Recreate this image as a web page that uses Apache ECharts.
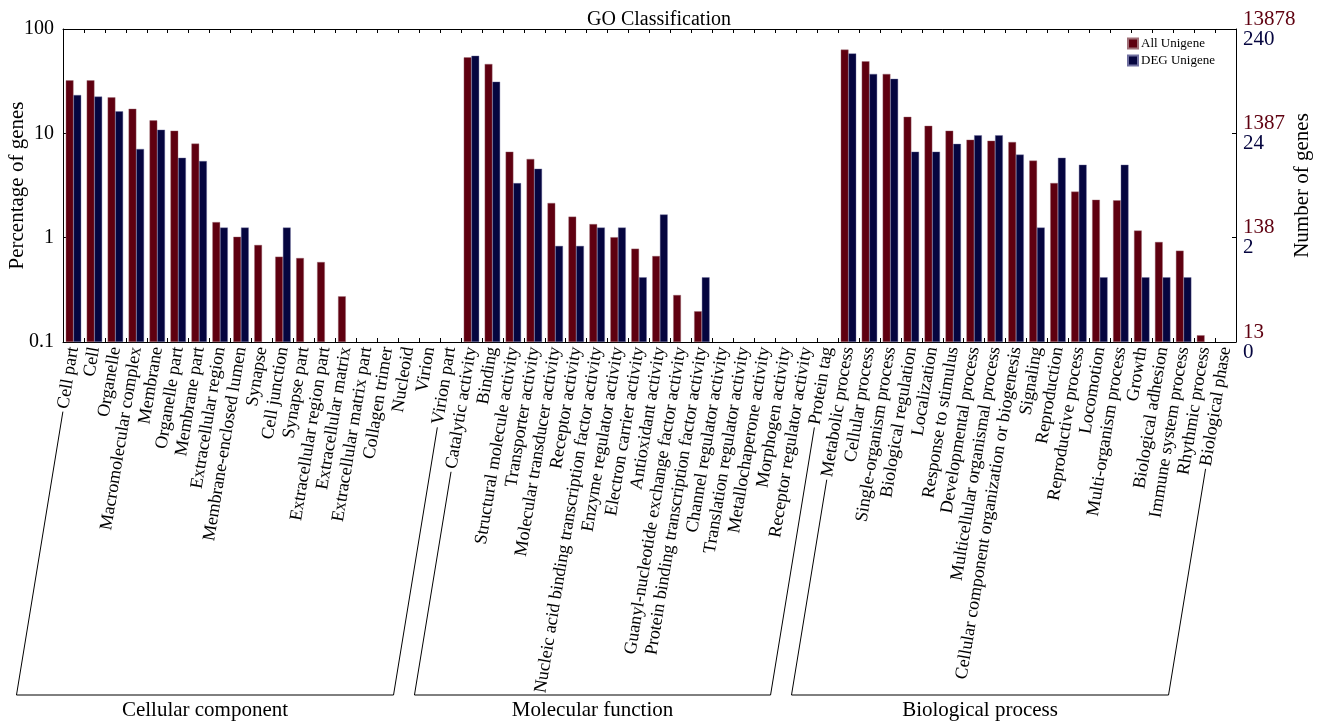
<!DOCTYPE html>
<html>
<head>
<meta charset="utf-8">
<script src="https://cdn.jsdelivr.net/npm/echarts@6/dist/echarts.min.js"></script>
<style>
html,body{margin:0;padding:0;background:#fff;}
#chart{width:1325px;height:725px;}
</style>
</head>
<body>
<div id="chart"></div>
<script>
const categories = [
  'Cell part','Cell','Organelle','Macromolecular complex','Membrane','Organelle part','Membrane part',
  'Extracellular region','Membrane-enclosed lumen','Synapse','Cell junction','Synapse part',
  'Extracellular region part','Extracellular matrix','Extracellular matrix part','Collagen trimer',
  'Nucleoid','Virion','Virion part',
  'Catalytic activity','Binding','Structural molecule activity','Transporter activity',
  'Molecular transducer activity','Receptor activity','Nucleic acid binding transcription factor activity',
  'Enzyme regulator activity','Electron carrier activity','Antioxidant activity',
  'Guanyl-nucleotide exchange factor activity','Protein binding transcription factor activity',
  'Channel regulator activity','Translation regulator activity','Metallochaperone activity',
  'Morphogen activity','Receptor regulator activity','Protein tag',
  'Metabolic process','Cellular process','Single-organism process','Biological regulation',
  'Localization','Response to stimulus','Developmental process','Multicellular organismal process',
  'Cellular component organization or biogenesis','Signaling','Reproduction','Reproductive process',
  'Locomotion','Multi-organism process','Growth','Biological adhesion','Immune system process',
  'Rhythmic process','Biological phase'
];
// percentage of genes ('-' = none)
const allUnigene = [
  32.2, 32.2, 22.1, 17.2, 13.3, 10.6, 7.96, 1.41, 1.02, 0.851, 0.657, 0.638, 0.584, 0.274, '-', '-', '-', '-', '-',
  53.5, 46.2, 6.67, 5.68, 2.15, 1.59, 1.35, 1.01, 0.784, 0.667, 0.282, 0.197, '-', '-', '-', '-', '-', '-',
  63.4, 49.0, 37.1, 14.4, 11.8, 10.6, 8.69, 8.50, 8.26, 5.47, 3.34, 2.76, 2.31, 2.28, 1.17, 0.909, 0.750, 0.116, '-'
];
const degUnigene = [
  23.3, 22.5, 16.25, 7.08, 10.83, 5.83, 5.42, 1.25, 1.25, '-', 1.25, '-', '-', '-', '-', '-', '-', '-', '-',
  55.4, 31.25, 3.33, 4.58, 0.833, 0.833, 1.25, 1.25, 0.417, 1.667, '-', 0.417, '-', '-', '-', '-', '-', '-',
  58.3, 37.1, 33.3, 6.67, 6.67, 7.92, 9.58, 9.58, 6.25, 1.25, 5.83, 5.0, 0.417, 5.0, 0.417, 0.417, 0.417, '-', '-'
];
const groupNames = ['Cellular component', 'Molecular function', 'Biological process'];
const groupFirst = [0, 19, 37];
const groupLast = [18, 36, 55];
const leftTickLabels = ['0.1', '1', '10', '100'];
const rightAllTicks = ['13', '138', '1387', '13878'];
const rightDegTicks = ['0', '2', '24', '240'];
const seriesNames = ['All Unigene', 'DEG Unigene'];

const RED = '#5f0010';
const BLUE = '#05053f';
const FONT = '"Liberation Serif", "Times New Roman", serif';
const ROT = 80.7;
const LABEL_SIZE = 18;
const LABEL_MARGIN = 5;
const BRACKET_Y = 695;

function tickIdx(v) { return Math.round(Math.log10(v)) + 1; }

const chart = echarts.init(document.getElementById('chart'), null, {renderer: 'canvas'});
const option = {
  animation: false,
  backgroundColor: '#fff',
  textStyle: {fontFamily: FONT},
  title: {
    text: 'GO Classification', left: 654, top: 5, textAlign: 'center',
    textStyle: {fontFamily: FONT, fontSize: 20, fontWeight: 'normal', color: '#000'}
  },
  legend: {
    data: seriesNames, orient: 'vertical', left: 1127, top: 37, padding: 0,
    itemWidth: 10, itemHeight: 10, itemGap: 4, icon: 'rect',
    textStyle: {fontFamily: FONT, fontSize: 13, color: '#000', padding: [0, 0, 0, -2]}
  },
  grid: {left: 63, right: 89, top: 29, bottom: 383, containLabel: false, outerBoundsMode: 'none'},
  xAxis: [{
    type: 'category', data: categories, position: 'bottom',
    axisLine: {show: true, lineStyle: {color: '#000', width: 1}},
    axisTick: {show: true, inside: true, length: 4, interval: 0, lineStyle: {color: '#000'}},
    axisLabel: {interval: 0, rotate: ROT, fontFamily: FONT, fontSize: LABEL_SIZE, color: '#000', margin: LABEL_MARGIN},
    splitLine: {show: false}
  }, {
    type: 'category', data: categories, position: 'top',
    axisLine: {show: true, lineStyle: {color: '#000', width: 1}},
    axisTick: {show: true, inside: true, length: 4, interval: 0, lineStyle: {color: '#000'}},
    axisLabel: {show: false}, splitLine: {show: false}
  }],
  yAxis: [{
    type: 'log', logBase: 10, min: 0.1, max: 100, position: 'left', startValue: 0.1,
    name: 'Percentage of genes', nameLocation: 'middle', nameGap: 35, nameRotate: 90, nameMoveOverlap: false,
    nameTextStyle: {fontFamily: FONT, fontSize: 21, color: '#000'},
    axisLine: {show: true, lineStyle: {color: '#000', width: 1}},
    axisTick: {show: true, inside: true, length: 4, lineStyle: {color: '#000'}},
    axisLabel: {fontFamily: FONT, fontSize: 20, color: '#000', margin: 9,
      formatter: v => leftTickLabels[tickIdx(v)]},
    splitLine: {show: false}, minorTick: {show: false}
  }, {
    type: 'log', logBase: 10, min: 0.1, max: 100, position: 'right',
    name: 'Number of genes', nameLocation: 'middle', nameGap: 56, nameRotate: 90, nameMoveOverlap: false,
    nameTextStyle: {fontFamily: FONT, fontSize: 21, color: '#000'},
    axisLine: {show: true, lineStyle: {color: '#000', width: 1}},
    axisTick: {show: true, inside: true, length: 4, lineStyle: {color: '#000'}},
    axisLabel: {margin: 7, align: 'left',
      formatter: v => '{r|' + rightAllTicks[tickIdx(v)] + '}\n{b|' + rightDegTicks[tickIdx(v)] + '}',
      rich: {
        r: {fontFamily: FONT, fontSize: 21, color: RED, lineHeight: 20},
        b: {fontFamily: FONT, fontSize: 21, color: BLUE, lineHeight: 20}
      }},
    splitLine: {show: false}
  }],
  series: [{
    name: seriesNames[0], type: 'bar', data: allUnigene, barWidth: 7.7, barGap: '0%',
    itemStyle: {color: RED, borderColor: '#a07078', borderWidth: 0.4}
  }, {
    name: seriesNames[1], type: 'bar', data: degUnigene, barWidth: 7.7, barGap: '0%',
    itemStyle: {color: BLUE, borderColor: '#7070a0', borderWidth: 0.4}
  }]
};
chart.setOption(option);

// group brackets following the rotated category labels
const ctx = document.createElement('canvas').getContext('2d');
ctx.font = LABEL_SIZE + 'px ' + FONT;
const rad = ROT * Math.PI / 180;
const dir = [-Math.cos(rad), Math.sin(rad)];
function anchorOf(i) {
  const p = chart.convertToPixel({gridIndex: 0}, [i, 0.1]);
  return [p[0], p[1] + LABEL_MARGIN];
}
function labelEnd(i) {
  const a = anchorOf(i);
  const w = ctx.measureText(categories[i]).width + 3;
  return [a[0] + dir[0] * w, a[1] + dir[1] * w];
}
function bottomOf(i) {
  const a = anchorOf(i);
  const t = (BRACKET_Y - a[1]) / dir[1];
  return [a[0] + dir[0] * t, BRACKET_Y];
}
const graphics = [];
for (let g = 0; g < groupNames.length; g++) {
  const e1 = labelEnd(groupFirst[g]), b1 = bottomOf(groupFirst[g]);
  const e2 = labelEnd(groupLast[g]), b2 = bottomOf(groupLast[g]);
  graphics.push({
    type: 'polyline', silent: true,
    shape: {points: [e1, b1, b2, e2]},
    style: {stroke: '#000', lineWidth: 1, fill: null}
  });
  graphics.push({
    type: 'text', silent: true, x: (b1[0] + b2[0]) / 2, y: BRACKET_Y + 15,
    style: {text: groupNames[g], fontFamily: FONT, fontSize: 21, fill: '#000', align: 'center', verticalAlign: 'middle'}
  });
}
chart.setOption({graphic: graphics});
</script>
</body>
</html>
